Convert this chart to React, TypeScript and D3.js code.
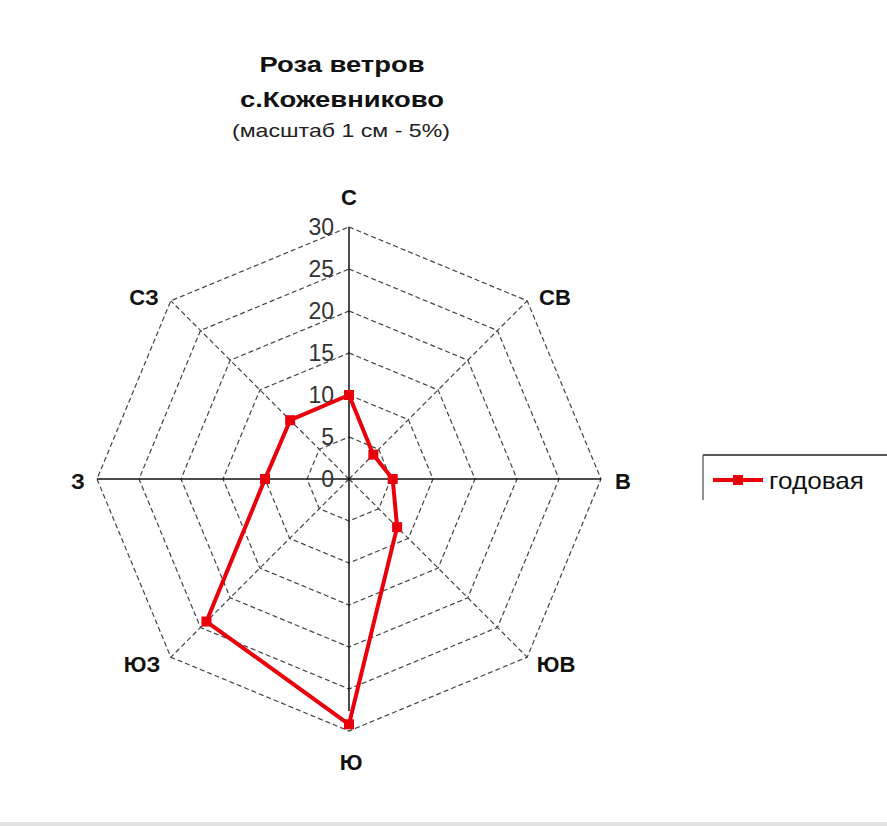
import React, { useEffect, useRef } from 'react';
import * as d3 from 'd3';

const directions = ['С', 'СВ', 'В', 'ЮВ', 'Ю', 'ЮЗ', 'З', 'СЗ'];
const annual = [10, 4.1, 5.2, 8.1, 29.2, 24, 10, 9.9];
const ringTicks = [0, 5, 10, 15, 20, 25, 30];
const titleLines = ['Роза ветров', 'с.Кожевниково'];
const subtitle = '(масштаб 1 см - 5%)';
const seriesName = 'годовая';

const App = () => {
    const ref = useRef<SVGSVGElement>(null);

    useEffect(() => {
        const width = 887, height = 826;
        const cx = 349, cy = 479, radius = 252;
        const svg = d3.select(ref.current);
        svg.selectAll('*').remove();
        svg.attr('width', width).attr('height', height)
            .style('font-family', 'Liberation Sans, Arial, sans-serif');

        svg.append('rect').attr('width', width).attr('height', height).attr('fill', '#fff');
        svg.append('rect').attr('y', 822).attr('width', width).attr('height', 4).attr('fill', '#e2e2e2');

        const r = d3.scaleLinear().domain([0, 30]).range([0, radius]);
        const angle = d3.scaleBand().domain(directions).range([0, 2 * Math.PI]).align(0);
        const ang = (d: string) => angle(d) as number;
        const px = (d: string, v: number) => cx + r(v) * Math.sin(ang(d));
        const py = (d: string, v: number) => cy - r(v) * Math.cos(ang(d));

        const g = svg.append('g');

        // rings
        ringTicks.filter(t => t > 0).forEach(t => {
            g.append('polygon')
                .attr('points', directions.map(d => `${px(d, t)},${py(d, t)}`).join(' '))
                .attr('fill', 'none')
                .attr('stroke', '#444')
                .attr('stroke-width', 1.2)
                .attr('stroke-dasharray', '5,3');
        });

        // diagonal spokes
        directions.forEach((d, i) => {
            if (i % 2 === 0) return;
            g.append('line')
                .attr('x1', cx).attr('y1', cy)
                .attr('x2', px(d, 30)).attr('y2', py(d, 30))
                .attr('stroke', '#444').attr('stroke-width', 1.2).attr('stroke-dasharray', '5,3');
        });

        // solid axes
        g.append('line').attr('x1', px('З', 30)).attr('y1', cy).attr('x2', px('В', 30)).attr('y2', cy)
            .attr('stroke', '#111').attr('stroke-width', 1.5);
        g.append('line').attr('x1', cx).attr('y1', py('С', 30)).attr('x2', cx).attr('y2', py('Ю', 30) - 20)
            .attr('stroke', '#111').attr('stroke-width', 1.5);

        // tick labels
        g.selectAll('.tick').data(ringTicks).enter().append('text')
            .attr('x', cx - 15).attr('y', t => cy - r(t))
            .attr('dy', '0.36em')
            .attr('text-anchor', 'end')
            .attr('font-size', 23)
            .attr('fill', '#333')
            .text(t => t);

        // direction labels
        const labelOff: Record<string, [number, number]> = {
            'С': [0, -282], 'СВ': [206, -182], 'В': [274, 2], 'ЮВ': [207, 185],
            'Ю': [2, 283], 'ЮЗ': [-207, 185], 'З': [-271, 2], 'СЗ': [-205, -182],
        };
        directions.forEach(d => {
            const [dx, dy] = labelOff[d];
            g.append('text')
                .attr('x', cx + dx)
                .attr('y', cy + dy)
                .attr('dy', '0.36em')
                .attr('text-anchor', 'middle')
                .attr('font-size', 22)
                .attr('font-weight', 'bold')
                .attr('fill', '#111')
                .text(d);
        });

        // series
        const pts = directions.map((d, i) => [px(d, annual[i]), py(d, annual[i])] as [number, number]);
        g.append('path')
            .attr('d', d3.line().curve(d3.curveLinearClosed)(pts))
            .attr('fill', 'none')
            .attr('stroke', '#e8000b')
            .attr('stroke-width', 4)
            .attr('stroke-linejoin', 'round');
        g.selectAll('.pt').data(pts).enter().append('rect')
            .attr('x', p => p[0] - 5).attr('y', p => p[1] - 5)
            .attr('width', 10).attr('height', 10)
            .attr('fill', '#e8000b');

        // title
        const titleW = [165, 204];
        titleLines.forEach((t, i) => {
            svg.append('text').attr('x', 342).attr('y', 72 + i * 35)
                .attr('text-anchor', 'middle').attr('font-size', 22).attr('font-weight', 'bold')
                .attr('textLength', titleW[i]).attr('lengthAdjust', 'spacingAndGlyphs')
                .attr('fill', '#111').text(t);
        });
        svg.append('text').attr('x', 341).attr('y', 137)
            .attr('text-anchor', 'middle').attr('font-size', 19).attr('fill', '#222')
            .attr('textLength', 218).attr('lengthAdjust', 'spacingAndGlyphs')
            .text(subtitle);

        // legend
        const lg = svg.append('g');
        lg.append('line').attr('x1', 703).attr('y1', 455).attr('x2', 887).attr('y2', 455).attr('stroke', '#222').attr('stroke-width', 1.3);
        lg.append('line').attr('x1', 703).attr('y1', 455).attr('x2', 703).attr('y2', 500).attr('stroke', '#555').attr('stroke-width', 1.3);
        lg.append('line').attr('x1', 713).attr('y1', 480).attr('x2', 763).attr('y2', 480)
            .attr('stroke', '#e8000b').attr('stroke-width', 4);
        lg.append('rect').attr('x', 733).attr('y', 475).attr('width', 10).attr('height', 10).attr('fill', '#e8000b');
        lg.append('text').attr('x', 769).attr('y', 480).attr('dy', '0.36em')
            .attr('font-size', 24).attr('fill', '#111')
            .attr('textLength', 95).attr('lengthAdjust', 'spacingAndGlyphs')
            .text(seriesName);
    }, []);

    return <svg ref={ref} style={{ position: 'absolute', left: 0, top: 0, display: 'block' }} />;
};

export default App;
